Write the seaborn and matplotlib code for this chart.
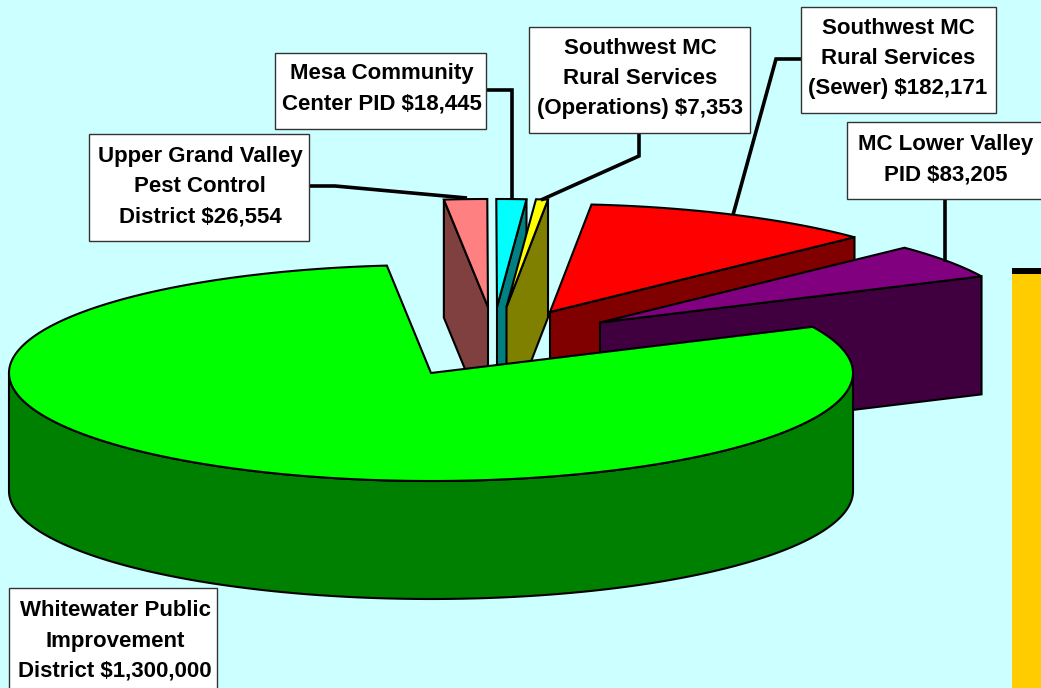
import numpy as np
import matplotlib
matplotlib.use("Agg")
import matplotlib.pyplot as plt
from matplotlib.patches import Polygon, Rectangle
import seaborn as sns

# ---- data (counter-clockwise, starting from the Lower Valley slice)
districts = ["MC Lower Valley PID", "Southwest MC Rural Services (Sewer)",
             "Southwest MC Rural Services (Operations)", "Mesa Community Center PID",
             "Upper Grand Valley Pest Control District", "Whitewater Public Improvement District"]
amounts = [83205, 182171, 7353, 18445, 26554, 1300000]
label_texts = ["MC Lower Valley\nPID $83,205",
               "Southwest MC\nRural Services\n(Sewer) $182,171",
               "Southwest MC\nRural Services\n(Operations) $7,353",
               "Mesa Community\nCenter PID $18,445",
               "Upper Grand Valley\nPest Control\nDistrict $26,554",
               "Whitewater Public\nImprovement\nDistrict $1,300,000"]

# ---- style / layout
top_colors = ["#800080", "#FF0000", "#FFFF00", "#00FFFF", "#FF8080", "#00FF00"]
side_colors = ["#400040", "#800000", "#808000", "#008080", "#804040", "#008000"]
apexes = [(600, 322.5), (550, 312), (506.5, 307), (497, 307), (488, 307), (431, 373)]
side_on_high_angle = [False, False, False, False, True, False]
draw_order = [4, 3, 2, 1, 0, 5]
RX, RY, DEPTH, START = 422, 108, 118, 25.3
BG = "#CCFFFF"

boxes = [(847, 122, 1060, 199), (801, 7, 996, 113), (529, 27, 750, 133),
         (275, 53, 486, 129), (89, 134, 309, 241), (9, 588, 217, 700)]
text_centers = [(946, 159.5), (898, 58.5), (640, 78.5), (382, 89), (200, 187), (115, 641)]
leaders = [[(945, 199), (945, 262)],
           [(801, 59), (776, 59), (733, 215)],
           [(639, 133), (639, 156), (541, 200)],
           [(486, 90), (512, 90), (512, 200)],
           [(309, 186), (335, 186), (467, 198)]]

sns.set_style("white")
plt.rcParams["font.family"] = ["Liberation Sans", "DejaVu Sans"]

fig = plt.figure(figsize=(10.41, 6.88), dpi=100, facecolor=BG)
ax = fig.add_axes([0, 0, 1, 1])
ax.set_xlim(0, 1041)
ax.set_ylim(688, 0)
ax.axis("off")

palette = sns.color_palette(top_colors)
side_palette = sns.color_palette(side_colors)

values = np.array(amounts, dtype=float)
edges = START + np.concatenate([[0], np.cumsum(values / values.sum() * 360)])
LW = 1.5


def rim(cx, cy, a0, a1):
    t = np.radians(np.linspace(a0, a1, max(int(abs(a1 - a0)) * 2, 2)))
    return np.column_stack([cx + RX * np.cos(t), cy - RY * np.sin(t)])


for z, i in enumerate(draw_order):
    cx, cy = apexes[i]
    a0, a1 = edges[i], edges[i + 1]
    base = 10 + z * 3
    if i == 5:
        # outer wall of the large slice
        t = np.radians(np.linspace(180, 360, 300))
        low = np.column_stack([cx + RX * np.cos(t), cy + DEPTH - RY * np.sin(t)])
        up = np.column_stack([cx + RX * np.cos(t[::-1]), cy - RY * np.sin(t[::-1])])
        ax.add_patch(Polygon(np.vstack([low, up]), closed=True, fc=side_palette[i],
                             ec="black", lw=LW, zorder=base))
    else:
        a = a1 if side_on_high_angle[i] else a0
        p = rim(cx, cy, a, a)[0]
        face = [(cx, cy), tuple(p), (p[0], p[1] + DEPTH), (cx, cy + DEPTH)]
        ax.add_patch(Polygon(face, closed=True, fc=side_palette[i], ec="black", lw=LW,
                             joinstyle="miter", zorder=base))
    top = np.vstack([[[cx, cy]], rim(cx, cy, a0, a1)])
    ax.add_patch(Polygon(top, closed=True, fc=palette[i], ec="black", lw=LW,
                         joinstyle="miter", zorder=base + 1))

# yellow panel at the right edge
ax.add_patch(Rectangle((1012, 274), 40, 430, fc="#FFCC00", ec="none", zorder=5))
ax.add_patch(Rectangle((1012, 268), 40, 6, fc="black", ec="none", zorder=5))

# leaders
for pts in leaders:
    xy = np.array(pts)
    ax.plot(xy[:, 0], xy[:, 1], color="black", lw=2.6, solid_joinstyle="miter",
            solid_capstyle="butt", zorder=30)

# callouts
for (x0, y0, x1, y1), (tx, ty), s in zip(boxes, text_centers, label_texts):
    ax.add_patch(Rectangle((x0, y0), x1 - x0, y1 - y0, fc="white", ec="#333333", lw=1.0, zorder=40))
    ax.text(tx, ty, s, ha="center", va="center", ma="center", fontsize=16, fontweight="bold",
            color="black", linespacing=1.58, zorder=41)

fig.savefig("out.png", dpi=100, facecolor=BG)
